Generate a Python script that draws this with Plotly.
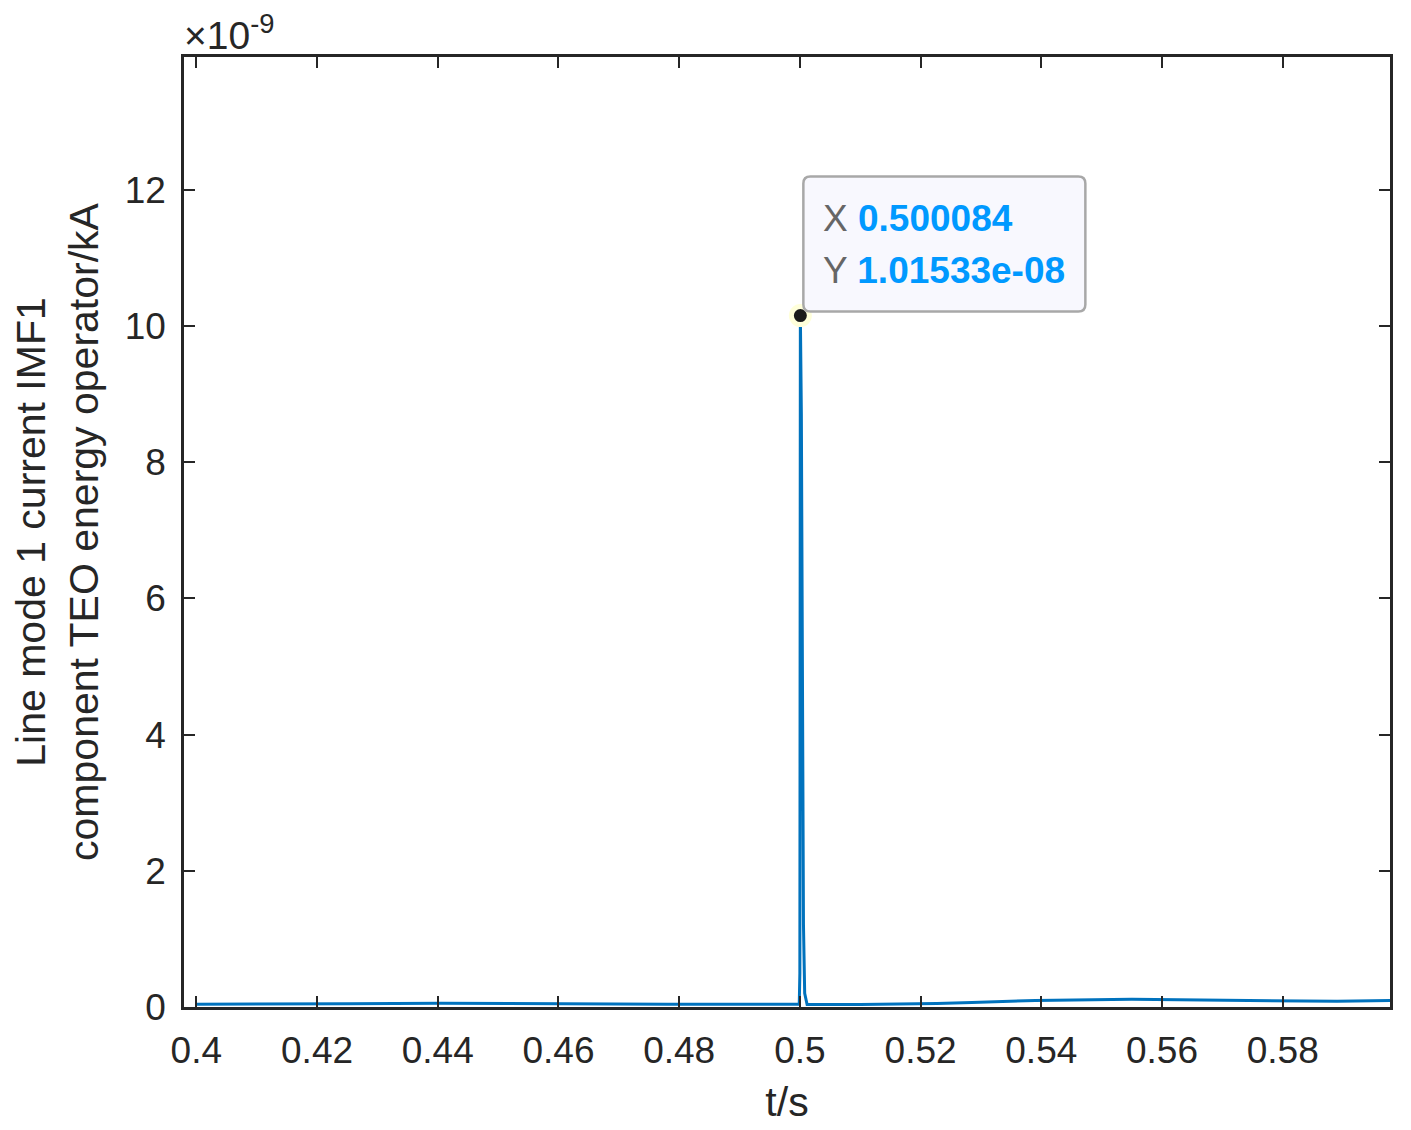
import plotly.graph_objects as go

# time axis (s) and TEO energy values (units of 1e-9)
t = [0.4000, 0.4125, 0.4253, 0.4405, 0.4557, 0.4780, 0.4996,
     0.49990, 0.50000, 0.500084, 0.50025, 0.50035, 0.50045, 0.50060, 0.50080,
     0.5012, 0.5100, 0.5192, 0.5227, 0.5285, 0.5335, 0.5390, 0.5550,
     0.5750, 0.5890, 0.5978]
teo = [0.040, 0.040, 0.047, 0.054, 0.047, 0.040, 0.040,
       0.040, 0.50, 10.1533, 8.7, 5.7, 3.9, 1.2, 0.2,
       0.035, 0.035, 0.043, 0.050, 0.066, 0.082, 0.097, 0.113,
       0.098, 0.084, 0.094]

tip_x = 0.500084
tip_y = 10.1533

x_ticks = [0.40, 0.42, 0.44, 0.46, 0.48, 0.50, 0.52, 0.54, 0.56, 0.58]
x_labels = ['0.4', '0.42', '0.44', '0.46', '0.48', '0.5', '0.52', '0.54', '0.56', '0.58']
y_ticks = [0, 2, 4, 6, 8, 10, 12]
y_labels = ['0', '2', '4', '6', '8', '10', '12']

FONT = 'Arial, Liberation Sans, sans-serif'
AX = '#262626'

fig = go.Figure()
fig.add_trace(go.Scatter(x=t, y=teo, mode='lines',
                         line=dict(color='#0072BD', width=3), hoverinfo='skip'))
fig.add_trace(go.Scatter(x=[tip_x], y=[tip_y], mode='markers',
                         marker=dict(color='#1a1a1a', size=18,
                                     line=dict(color='#FFFFDA', width=5)),
                         hoverinfo='skip'))

# data tip box (rounded, pixel offsets from the tip point)
fig.add_shape(type='path', xref='x', yref='y', xsizemode='pixel', ysizemode='pixel',
              xanchor=tip_x, yanchor=tip_y,
              path='M 10,4 L 278,4 Q 285,4 285,11 L 285,132 Q 285,139 278,139 '
                   'L 10,139 Q 3,139 3,132 L 3,11 Q 3,4 10,4 Z',
              fillcolor='#F8F8FE', line=dict(color='#A8A8A8', width=2.5), layer='above')
fig.add_annotation(x=tip_x, y=tip_y, showarrow=False, xanchor='left', yanchor='middle',
                   xshift=21, yshift=97,
                   text="<span style='color:#666666'>X</span> <b>0.500084</b>",
                   font=dict(family=FONT, size=37, color='#0099FF'))
fig.add_annotation(x=tip_x, y=tip_y, showarrow=False, xanchor='left', yanchor='middle',
                   xshift=21, yshift=45,
                   text="<span style='color:#666666'>Y</span> <b>1.01533e-08</b>",
                   font=dict(family=FONT, size=37, color='#0099FF'))

# exponent label
fig.add_annotation(xref='paper', yref='paper', x=0, y=1, xanchor='left', yanchor='bottom',
                   xshift=-2, yshift=-2, showarrow=False,
                   text='×10<sup>-9</sup>', font=dict(family=FONT, size=39, color=AX))

axis_common = dict(showgrid=False, zeroline=False, showline=True, linecolor=AX, linewidth=2.5,
                   mirror='ticks', ticks='inside', ticklen=11, tickwidth=2, tickcolor=AX,
                   tickfont=dict(family=FONT, size=37, color=AX))

fig.update_layout(
    width=1411, height=1130,
    margin=dict(l=176, r=29, t=49, b=131),
    paper_bgcolor='white', plot_bgcolor='white',
    showlegend=False,
    xaxis=dict(range=[0.39796, 0.59778], tickvals=x_ticks, ticktext=x_labels,
               ticklabelstandoff=9,
               title=dict(text='t/s', font=dict(family=FONT, size=41, color=AX), standoff=18),
               **axis_common),
    yaxis=dict(range=[0, 13.95], tickvals=y_ticks, ticktext=y_labels,
               ticklabelstandoff=8,
               title=dict(text='Line mode 1 current IMF1<br>component TEO energy operator/kA',
                          font=dict(family=FONT, size=41, color=AX), standoff=14),
               **axis_common),
)

fig.write_html('out.html')
